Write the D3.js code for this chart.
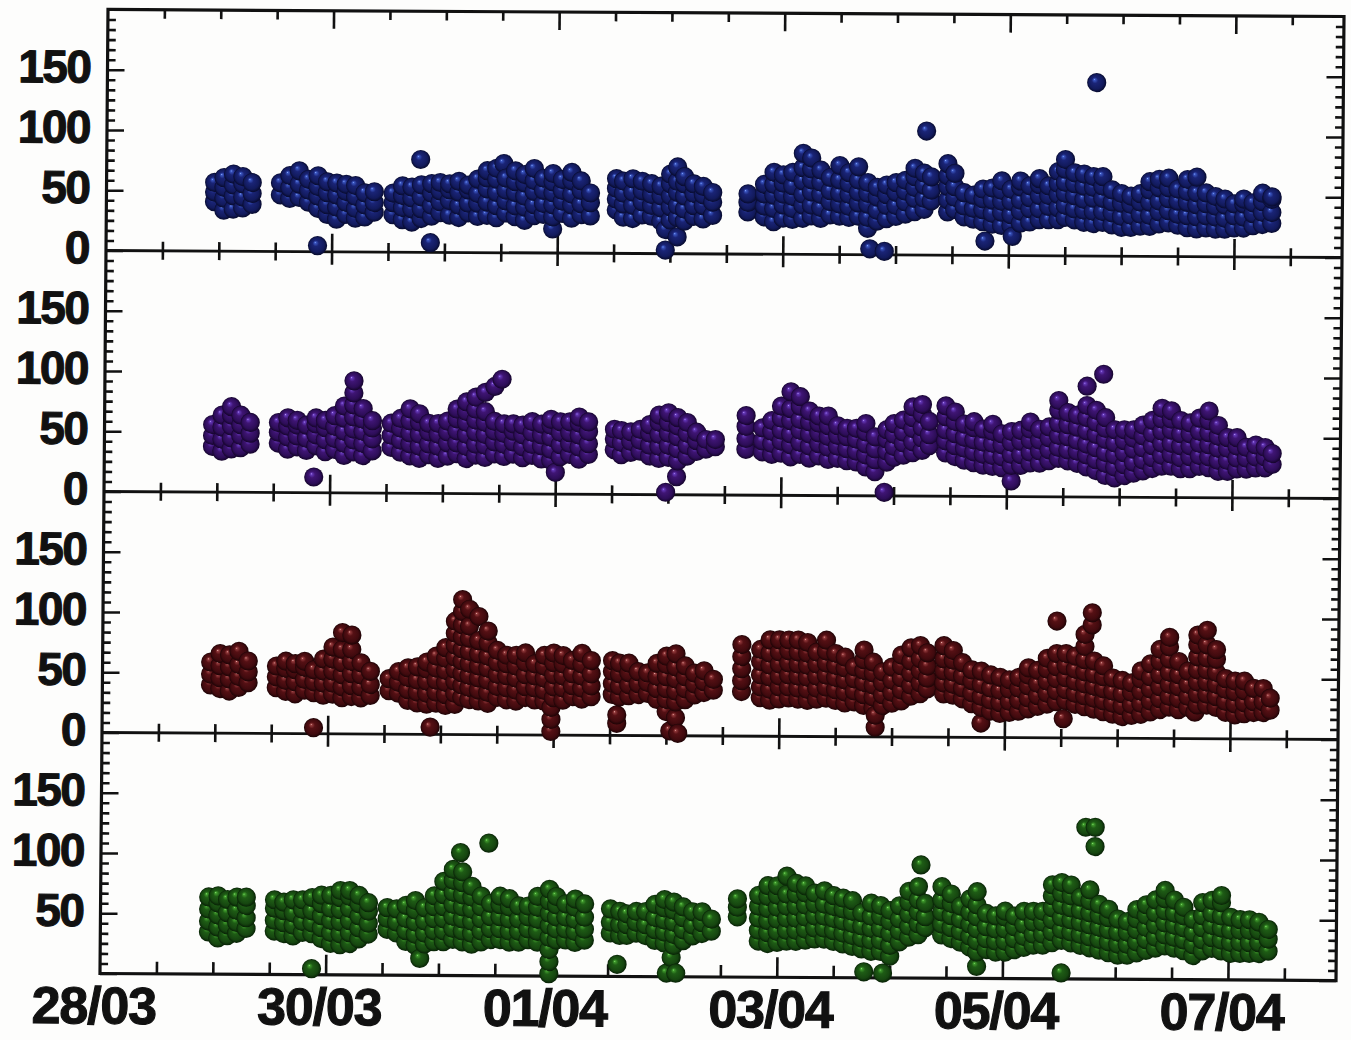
<!DOCTYPE html>
<html>
<head>
<meta charset="utf-8">
<script src="https://cdn.jsdelivr.net/npm/d3@7"></script>
<style>
  html, body { margin: 0; padding: 0; background: #fdfdfc; }
  svg { display: block; }
  text { font-family: "Liberation Sans", Arial, Helvetica, sans-serif; font-weight: bold; fill: #111; stroke: #111; stroke-width: 1.1; }
</style>
</head>
<body>
<svg id="chart" width="1351" height="1040"></svg>
<script>
// Hours since 28/03 00:00 for the labelled dates, and their labels
const dateTickHours = [0, 48, 96, 144, 192, 240];
const dateTickLabels = ["28/03", "30/03", "01/04", "03/04", "05/04", "07/04"];
const yMajorTicks = [0, 50, 100, 150];

// Each entry: [hour since 28/03 00:00, values recorded around that hour ...]
const blueSeries = [
  [23,41,49,57],[25,34,44,53,61],[27,35,46,55,64],[29,36,45,56,62],[31,39,48,57],
  [37,47,57],[39,44,53,63],[41,45,56,67],[43,41,51,60],[45,5],[45,36,46,54,63],[47,31,39,49,58],[49,27,37,47,57],[51,31,41,50,56],[53,28,36,46,55],[55,29,39,49],[57,33,41,50],
  [61,31,41,49],[63,27,37,47,55],[65,25,36,45,54],[66.8,77],[67,28,36,46,56],[69,8],[69.2,30,39,49,57],[71,33,42,51,58],[73,31,43,52,57],[75,29,39,50,59],[77,33,41,52,56],[79,30,41,49,61],[81,31,42,53,62,68],[83,29,39,50,61,70],[84.5,74],[85,33,43,52,62],[87,30,39,50,59,68],[89,27,38,47,58,65],[91,31,40,51,60,70],[93,32,41,52,62],[95,20,30,40,50,59,66],[97,33,43,52,61],[99,29,40,49,60,67],[101,32,41,52,60],[103,31,42,50],
  [108.5,36,45,54,62],[110,30,41,50,60],[112,29,40,51,62],[114,32,43,52,60],[116,31,40,49,58],[118,27,38,48,56],[119,3,20],[120,28,39,48,58,66],[121.5,14,30,40,51,60,72],[123,27,37,48,58,64],[125,31,40,50,58],[127,29,40,49,56],[129,32,43,51],
  [136.5,35,43,50],
  [140,31,40,50,58],[142,27,38,49,58,68],[144,30,41,50,59,66],[146,29,38,48,57,68],[148.2,30,41,50,61,72,84],[150,32,41,52,62,71,80],[152,30,39,50,60,70],[154,33,44,53,64],[156,32,42,51,62,74],[158,31,40,50,59,68],[160,32,43,52,62,73],[162,22,31,42,51,60],[162.5,5],[164,28,37,48,56],[165.6,3],[166,30,41,50,58],[168,32,41,52,60],[170,34,44,53,62],[172,36,47,56,65,72],[174,38,47,58,68],[174.4,103],[175.5,45,54,65],
  [179,36,46,57,66,76],[180.5,38,48,57,68],[182.5,32,41,52],[184.5,30,39,50],[186.5,28,38,47,55],[187,12],[188.5,26,35,46,56],[190.5,25,36,45,54,62],[192.5,25,34,45,55],[192.8,16],[194.5,27,37,46,57,62],[196.5,28,39,48,58],[198.5,30,39,50,59,64],[200.5,30,41,50,58],
  [202.5,30,40,51,60,70],[204,32,42,52,61,72,80],[206,30,39,50,60,69],[208,28,38,47,58,68],[210,27,37,48,57,66],[210.5,144],[212,28,37,48,58,66],
  [214,26,36,45,55],[216,24,33,44,52],[218,24,34,43,50],[220,25,35,45,52],[222,25,34,45,55,62],[224,27,37,46,57,64],[226,28,38,48,57,65],[228,26,35,46,56],[230,24,34,45,54,64],[232,23,33,43,53,66],[234,24,34,44,53],[236,23,33,42,50],[238,23,32,43,48],[240,24,34,44],[242,24,33,44,48],[244,26,36,45],[246,27,37,46,53],[248,28,37,48,50]
];

const purpleSeries = [
  [23,38,47,56],[25,34,44,54,64],[27,36,45,55,64,71],[29,37,47,56,64],[31,40,49,58],
  [37,41,50,58],[39,36,46,55,62],[41,38,47,56,60],[43,35,45,56],[44.6,13],[45,39,48,57,62],[47,34,44,54,60],[49,36,45,55,64],[51,31,41,51,62,72],[53,34,44,53,63,73,83,93],[55,31,41,51,61,70],[57,35,45,54,60],
  [61,38,48,58],[63,34,44,54,62],[65,31,41,50,60,70],[67,29,39,49,59,66],[69,32,41,51,58],[71,29,39,49,58],[73,31,42,51,60],[75,33,42,52,62,70],[77,29,39,49,59,68,76],[79,32,41,51,61,70,80],[81,30,40,49,59,68,84],[83,33,43,52,60,89],[84.5,95],[85,31,41,50,58],[87,33,43,52,58],[89,30,39,49,57],[91,32,41,51,60],[93,29,40,49,58],[95,28,37,47,57,62],[96,18],[97,31,41,51,60],[99,33,42,51,60],[101,29,39,49,59,64],[103,33,42,52,60],
  [108.5,37,46,54],[110,33,43,53],[112,35,44,52],[114,36,45,54],[116,32,41,51,58],[118,30,40,50,60,66],[119.5,2],[120,31,41,51,60,68],[121.8,15],[122,28,38,48,57,64],[124,32,41,51,60],[126,36,45,52],[128,38,46],[130,40,46],
  [136.5,38,47,57,66],
  [140,36,45,56],[142,34,43,53,62],[144,35,45,54,64,74],[146,32,42,51,62,72,86],[148,34,44,54,63,74,82],[150,31,41,51,61,70],[152,33,43,52,60,66],[154,30,40,49,58,66],[156,31,41,50,58],[158,29,39,49,56],[160,28,37,47,56],[162,24,34,43,53,60],[164,20,30,39,49],[166,3],[166.5,28,37,47,55],[168,32,41,51,60],[170,34,44,53,63],[172,36,45,56,65,74],[174,38,48,57,68,76],[175.5,42,51,62],
  [179,36,46,55,66,75],[181,33,42,52,62,70],[183,30,40,49,60],[185,28,37,47,57,62],[187,26,35,45,56],[189,25,34,44,54,60],[191,24,33,43,52],[193,13,26,35,45,54],[195,26,35,46,55],[197,28,37,47,56,62],[199,28,38,47,56],[201,30,39,49,58],[203,32,41,51,61,72,80],[205,30,39,50,60,70],[207,28,38,47,58,68],[209,25,35,44,55,66,76,92],[211,22,31,41,52,62,72],[212.5,102],[213,18,28,37,48,57,66],[215,16,25,35,45,56],[217,18,27,37,47,56],[219,20,29,40,49,56],[221,22,31,41,51,60],[223,24,33,43,53,64],[225,26,35,45,55,65,74],[227,26,36,45,56,65,72],[229,24,33,43,53,64],[231,24,34,43,53,62],[233,26,35,45,55,66],[235,25,34,44,54,64,72],[237,22,31,41,51,60],[239,22,31,41,50],[241,24,33,43,50],[243,24,33,42],[245,25,34,44],[247,25,34,42],[248.5,28,37]
];

const redSeries = [
  [23,40,49,59],[25,37,46,56,66],[27,35,45,55,65],[29,38,47,57,68],[31,42,51,60],
  [37,38,47,56],[39,35,44,54,60],[41,33,43,53,58],[43,36,45,55,60],[45,5],[45,34,43,53],[47,32,42,52,62],[49,33,42,52,62,72],[51,30,39,49,59,70,84],[53,31,40,50,60,70,82],[55,30,39,49,59],[57,32,41,52],
  [61,36,46],[63,34,43,52],[65,28,37,47,55],[67,26,35,45,56],[69,25,34,44,54,60],[69.8,6],[71,26,35,45,55,65],[73,24,33,43,53,63,72],[75,25,34,44,54,64,74,84,94],[76.5,31,41,51,61,71,81,91,102,112],[78,29,39,49,59,69,80,90,104],[80,28,37,47,57,67,78,98],[82,26,35,45,55,65,76,86],[84,31,40,50,60,70],[86,29,39,49,59,66],[88,28,37,47,57,66],[90,31,40,50,60,68],[92,29,39,49,59],[94,28,37,47,57,66],[95.5,3,13,23],[96,31,40,50,60,68],[98,29,39,49,59,66],[100,32,41,51,62],[102,30,39,49,59,68],[104,32,41,51,62],
  [108.5,34,43,53,62],[109.5,10,17],[110,32,41,51,60],[112,33,42,52,60],[114,34,43,53],[116,35,44,52],[118,30,39,49,60],[120,20,30,39,49,59,66],[120.8,4],[122,15,28,37,47,57,68],[122.5,2],[124,30,39,49,58],[126,34,43,52],[128,36,45,54],[130,38,47],
  [136,37,46,56,66,76],
  [140,32,41,51,62,72],[142,30,39,49,59,69,80],[144,31,41,50,60,70,80],[146,32,41,51,61,71,80],[148,31,40,50,60,70,80],[150,30,39,49,59,69,78],[152,31,40,50,60,70],[154,32,41,51,61,71,80],[156,30,39,49,59,69],[158,28,37,47,57,66],[160,29,38,48,58],[162,26,35,45,55,64,72],[164,24,33,43,53,62],[164.5,8,18],[166,26,35,45,54],[168,28,37,47,58],[170,30,39,49,59,68],[172,34,43,53,63,74],[174,36,45,55,65,76],[175.5,40,49,59,70],
  [179,36,45,55,65,76],[181,35,44,54,64,72],[183,32,41,51,62],[185,28,37,47,56],[187,12,25,34,44,55],[189,22,31,41,52],[191,20,29,39,50],[193,21,30,40,48],[195,22,31,41,50],[197,24,33,43,52,58],[199,26,35,45,56],[201,28,37,47,57,66],[203,30,39,49,59,70,97],[204.5,16],[205,31,40,50,60,70],[207,28,37,47,57,68],[209,26,35,45,55,65,76,86],[210.5,94,104],[211,24,33,43,53,64],[213,22,31,41,51,60],[215,20,29,39,50],[217,18,27,37,48],[219,19,28,38,46],[221,20,29,39,49,56],[223,22,31,41,51,62],[225,24,33,43,53,64,74],[227,26,35,45,55,66,76,84],[229,24,33,43,53,64],[231,26,35,45,56],[232.5,22],[233,28,37,47,57,68,78,86],[235,28,37,47,57,67,78,90],[237,26,35,45,55,66,74],[239,22,31,41,50],[241,20,29,39,48],[243,21,30,40,48],[245,22,31,42],[247,22,31,42],[248.5,24,34]
];

const greenSeries = [
  [23,35,44,54,64],[25,30,39,49,59,65],[27,32,41,51,62],[29,34,43,53,64],[31,38,47,57,64],
  [37,36,45,55,62],[39,34,43,53,60],[41,32,41,51,62],[43,35,44,54,62],[45,5],[45,34,43,53,64],[47,30,39,49,59,66],[49,26,35,45,55,66],[51,25,34,44,54,64,70],[53,26,35,45,55,65,70],[55,30,39,49,59,66],[57,34,43,53,60],
  [61,38,47,56],[63,35,44,55],[65,28,37,47,58],[67,25,34,44,54,62],[68,14],[69,26,35,45,56],[71,28,37,47,57,66],[73,28,37,47,57,67,78],[75,30,39,49,59,69,79,88],[76.5,102],[77,28,37,47,57,67,77,86],[79,26,35,45,55,65,74],[81,28,37,47,57,66],[82.5,110],[83,30,39,49,60],[85,30,39,49,59,66],[87,28,37,47,57,64],[89,28,37,47,58],[91,30,39,49,58],[93,28,37,47,57,66],[95.5,2,12,22,32,42,52,62,72],[97,30,39,49,59,66],[99,30,39,49,60],[101,28,37,47,57,64],[103,30,39,49,60],
  [108.5,36,45,56],[110,10],[110.5,34,43,54],[112,34,43,52],[114,36,45,54],[116,34,43,54],[118,30,39,49,60],[120,28,37,47,57,64],[120.5,3],[121.5,16],[122,26,35,45,55,62],[122.5,3],[124,30,39,49,58],[126,34,43,54],[128,36,45,54],[130,38,48],
  [135.5,50,58,65],
  [140,30,39,49,59,68],[142,28,37,47,57,67,76],[144,29,38,48,58,68,76],[146,30,39,49,59,69,84],[148,30,39,49,59,69,78],[150,31,40,50,60,70,76],[152,32,41,51,61,70],[154,32,41,51,61,72],[156,30,39,49,59,68],[158,28,37,47,57,66],[160,26,35,45,55,64],[162,24,33,43,54],[162.5,5],[164,22,31,41,51,62],[166,22,31,41,51,60],[166.5,4],[168,18,27,37,47,56],[170,30,39,49,60],[172,34,43,53,63,72],[174,36,45,55,65,76],[174.5,94],[175.5,42,51,62],
  [179,36,45,55,65,76],[181,33,42,52,62,70],[183,30,39,49,60],[185,26,35,45,55,66],[186.5,10,22,31,41,51,61,72],[188.5,24,33,43,54],[190.5,22,31,41,52],[192.5,22,31,41,51,56],[194.5,24,33,43,52],[196.5,26,35,45,56],[198.5,28,37,47,56],[200.5,28,37,47,56],[202.5,30,39,49,59,69,78],[204.5,5],[204.5,32,41,51,61,71,80],[206.5,30,39,49,59,69,78],[208.5,28,37,47,57,68],[209.5,126],[210.5,26,35,45,55,65,74],[211.5,110,126],[212.5,24,33,43,53,62],[214.5,22,31,41,51,58],[216.5,20,29,39,50],[218.5,20,29,39,48],[220.5,22,31,41,50,58],[222.5,24,33,43,53,62],[224.5,26,35,45,55,66],[226.5,28,37,47,57,67,74],[228.5,26,35,45,55,66],[230.5,24,33,43,53,60],[232.5,20,29,39,50],[234.5,24,33,43,53,64],[236.5,26,35,45,55,66],[238.5,24,33,43,53,64,70],[240.5,22,31,41,52],[242.5,22,31,41,50],[244.5,22,31,41,50],[246.5,22,31,41,48],[248.5,24,34,42]
];

// ---- layout ----
const L = 104, R = 1340, T = 13, PH = 241;
const panels = [
  { id: "blue",   data: blueSeries,   stops: ["#8fb0ff", "#3a55c0", "#1a2476", "#121a5c", "#070a2c"], zeroLabel: true },
  { id: "purple", data: purpleSeries, stops: ["#b898f5", "#6438b8", "#3f1574", "#2d0d58", "#14042a"], zeroLabel: true },
  { id: "red",    data: redSeries,    stops: ["#f0bcb4", "#933a3c", "#551014", "#400a0e", "#1c0305"], zeroLabel: true },
  { id: "green",  data: greenSeries,  stops: ["#92ec7c", "#3f9a2c", "#1e5c15", "#164610", "#072005"], zeroLabel: false }
];
const stopOffsets = [0, 0.09, 0.32, 0.76, 1];

const x = d3.scaleLinear().domain([0, 263]).range([L, R]);
const minorX = d3.range(12, 263, 12).filter(h => h % 48 !== 0);
const minorY = d3.range(0, 200, 50 / 6).filter(v => Math.abs(v / 50 - Math.round(v / 50)) > 1e-6);

const svg = d3.select("#chart");
const defs = svg.append("defs");
panels.forEach(p => {
  const g = defs.append("radialGradient").attr("id", "ball-" + p.id)
    .attr("cx", 0.5).attr("cy", 0.5).attr("r", 0.5).attr("fx", 0.37).attr("fy", 0.33);
  stopOffsets.forEach((o, i) =>
    g.append("stop").attr("offset", o).attr("stop-color", p.stops[i]));
});

// slight skew of the whole sheet
const cx = 722, cy = 495, skx = -0.0083, sky = 0.0057;
const root = svg.append("g")
  .attr("transform", `matrix(1,${sky},${skx},1,${-skx * cy},${-sky * cx})`);

const axesLayer = root.append("g");
const marksLayer = root.append("g");
const labelLayer = root.append("g");

function styleAxis(sel) {
  sel.select(".domain").remove();
  sel.selectAll(".tick line").attr("stroke", "#111").attr("stroke-width", 2.6);
  sel.selectAll(".tick text").remove();
}

panels.forEach((p, i) => {
  const top = T + i * PH, bottom = top + PH;
  const y = d3.scaleLinear().domain([0, 200]).range([bottom, top]);
  const ax = axesLayer.append("g");
  const last = i === panels.length - 1;

  // y ticks, left and right, pointing into the panel
  ax.append("g").attr("transform", `translate(${L},0)`)
    .call(d3.axisLeft(y).tickValues(minorY).tickSize(-8)).call(styleAxis);
  ax.append("g").attr("transform", `translate(${L},0)`)
    .call(d3.axisLeft(y).tickValues(yMajorTicks).tickSize(-17)).call(styleAxis);
  ax.append("g").attr("transform", `translate(${R},0)`)
    .call(d3.axisRight(y).tickValues(minorY).tickSize(-8)).call(styleAxis);
  ax.append("g").attr("transform", `translate(${R},0)`)
    .call(d3.axisRight(y).tickValues(yMajorTicks).tickSize(-17)).call(styleAxis);

  // time ticks along the top and bottom edges of each panel
  ax.append("g").attr("transform", `translate(0,${top})`)
    .call(d3.axisBottom(x).tickValues(minorX).tickSize(9)).call(styleAxis);
  ax.append("g").attr("transform", `translate(0,${top})`)
    .call(d3.axisBottom(x).tickValues(dateTickHours.slice(1)).tickSize(i === 0 ? 18 : 13)).call(styleAxis);
  ax.append("g").attr("transform", `translate(0,${bottom})`)
    .call(d3.axisTop(x).tickValues(minorX).tickSize(last ? 12 : 9)).call(styleAxis);
  ax.append("g").attr("transform", `translate(0,${bottom})`)
    .call(d3.axisTop(x).tickValues(dateTickHours.slice(1)).tickSize(last ? 20 : 18)).call(styleAxis);

  // panel separator
  if (i > 0) {
    ax.append("line").attr("x1", L).attr("x2", R).attr("y1", top).attr("y2", top)
      .attr("stroke", "#111").attr("stroke-width", 2.8);
  }

  // y labels
  labelLayer.append("g").selectAll("text")
    .data(p.zeroLabel ? yMajorTicks : yMajorTicks.slice(1))
    .join("text")
    .attr("x", L - 17)
    .attr("y", d => y(d) + 13)
    .attr("text-anchor", "end")
    .attr("font-size", 46)
    .attr("letter-spacing", -1.5)
    .text(d => d);

  // points
  const pts = p.data.flatMap(([h, ...vals]) => vals.map(v => ({ h, v })));
  marksLayer.append("g").selectAll("circle")
    .data(pts)
    .join("circle")
    .attr("cx", d => x(d.h))
    .attr("cy", d => y(d.v))
    .attr("r", 9.6)
    .attr("fill", `url(#ball-${p.id})`);
});

// outer frame
axesLayer.append("rect")
  .attr("x", L).attr("y", T).attr("width", R - L).attr("height", PH * 4)
  .attr("fill", "none").attr("stroke", "#111").attr("stroke-width", 3.2);

// date labels
labelLayer.append("g").selectAll("text")
  .data(dateTickHours)
  .join("text")
  .attr("x", d => x(d) - 6)
  .attr("y", 1027)
  .attr("text-anchor", "middle")
  .attr("font-size", 52)
  .attr("letter-spacing", -1.2)
  .text((d, i) => dateTickLabels[i]);
</script>
</body>
</html>
